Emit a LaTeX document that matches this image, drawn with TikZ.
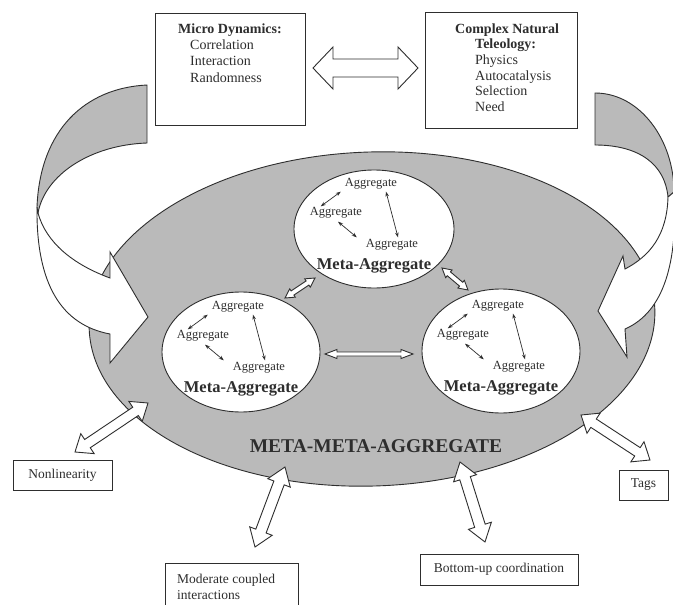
\documentclass[tikz,border=0pt]{standalone}
\usepackage{fontspec}
\setmainfont{Liberation Serif}
\usetikzlibrary{calc,arrows.meta,shapes.geometric}

\definecolor{inkc}{gray}{0.18}
\definecolor{bandgray}{gray}{0.73}

\tikzset{
  ink/.style={draw=inkc, line width=0.9pt},
  txt/.style={inner sep=0pt, text=inkc, font=\fontsize{14}{16}\selectfont},
  lbl/.style={inner sep=0pt, text=inkc, font=\fontsize{13.5}{16}\selectfont},
  frame/.style={ink, rectangle, inner sep=0pt},
  agg/.style={inner sep=1pt, text=inkc, font=\fontsize{12.5}{14}\selectfont},
  metalbl/.style={inner sep=0pt, text=inkc, font=\bfseries\fontsize{16.5}{18}\selectfont},
  metaell/.style={ink, ellipse, fill=white, inner sep=0pt},
  aggarrow/.style={draw=inkc, line width=0.7pt,
    {Stealth[length=5pt,width=3.6pt]}-{Stealth[length=5pt,width=3.6pt]}},
}

% hollow double-headed arrow between two named coordinates:
% #1 from, #2 to, #3 head length, #4 half head width, #5 half shaft width
\newcommand\hollowdbl[5]{%
  \draw[ink, fill=white, line join=miter] (#1)
    -- ($(#1)!#3!(#2)!#4!90:(#2)$)
    -- ($(#1)!#3!(#2)!#5!90:(#2)$)
    -- ($(#2)!#3!(#1)!#5!-90:(#1)$)
    -- ($(#2)!#3!(#1)!#4!-90:(#1)$)
    -- (#2)
    -- ($(#2)!#3!(#1)!#4!90:(#1)$)
    -- ($(#2)!#3!(#1)!#5!90:(#1)$)
    -- ($(#1)!#3!(#2)!#5!-90:(#2)$)
    -- ($(#1)!#3!(#2)!#4!-90:(#2)$)
    -- cycle;}

% three aggregates with their links and the label of a meta-aggregate
\newcommand\aggcluster[3]{%
  \begin{scope}[shift={(#2,#3)}]
    \node[agg] (#1-t) at (-3,-45) {Aggregate};
    \node[agg] (#1-l) at (-38,-16) {Aggregate};
    \node[agg] (#1-b) at (18,16) {Aggregate};
    \node[metalbl] (#1-m) at (0,37) {Meta-Aggregate};
  \end{scope}
  \draw[aggarrow] ([xshift=12pt]#1-l.north west) -- ([xshift=-3pt,yshift=-1pt]#1-t.south west);
  \draw[aggarrow] ([xshift=2pt,yshift=-2pt]#1-l.south) -- ([xshift=-8pt,yshift=1pt]#1-b.north west);
  \draw[aggarrow] ([xshift=15pt,yshift=-1pt]#1-t.south) -- ([xshift=6pt,yshift=1pt]#1-b.north);}

\begin{document}
\begin{tikzpicture}[x=1pt,y=-1pt]
\clip (0,0) rectangle (673,605);
\fill[white] (0,0) rectangle (673,605);

% the enclosing meta-meta-aggregate
\node[ink, ellipse, fill=bandgray, minimum width=566pt, minimum height=334pt,
      inner sep=0pt, rotate=2] (mma) at (372,319) {};

% curved feedback arrow on the left: back of the ribbon, then its front
\draw[ink, fill=bandgray] (147,85) .. controls (85,88) and (40,130) .. (37,207)
  -- (38,213) .. controls (45,175) and (90,145) .. (147,143) -- cycle;
\draw[ink, fill=white, line join=miter] (37,207) .. controls (36,285) and (62,325) .. (110,334)
  -- (110,363) -- (148,317) -- (110,252) -- (110,278)
  .. controls (72,264) and (46,242) .. (38,213) -- cycle;

% curved feedback arrow on the right
\draw[ink, fill=bandgray] (595,93) .. controls (640,93) and (674,140) .. (674,192)
  -- (668,197) .. controls (665,165) and (640,145) .. (595,145) -- cycle;
\draw[ink, fill=white, line join=miter] (674,192) .. controls (678,262) and (664,312) .. (625,329)
  -- (627,357) -- (598,311) -- (623,256) -- (625,269)
  .. controls (650,256) and (667,235) .. (668,197) -- cycle;

% the three meta-aggregates
\node[metaell, minimum width=160pt, minimum height=118pt] (mtop) at (374,229) {};
\node[metaell, minimum width=158pt, minimum height=120pt] (mleft) at (241,352) {};
\node[metaell, minimum width=158pt, minimum height=124pt] (mright) at (501,351) {};

\aggcluster{tp}{374}{229}
\aggcluster{lf}{241}{352}
\aggcluster{rt}{501}{351}

% links between the meta-aggregates
\coordinate (lt-a) at (285,298); \coordinate (lt-b) at (315,278);
\coordinate (tr-a) at (442,268); \coordinate (tr-b) at (468,290);
\coordinate (lr-a) at (325,354); \coordinate (lr-b) at (413,354);
\hollowdbl{lt-a}{lt-b}{9pt}{5pt}{2.5pt}
\hollowdbl{tr-a}{tr-b}{9pt}{5pt}{2.5pt}
\hollowdbl{lr-a}{lr-b}{12pt}{4.5pt}{2pt}

\node[inner sep=0pt, text=inkc, font=\bfseries\fontsize{19.5}{22}\selectfont] (mmalbl) at (376,446) {META-META-AGGREGATE};

% top boxes
\node[frame, minimum width=150pt, minimum height=112pt] (micro) at (230,69) {};
\node[txt, anchor=base west] (micro-0) at (178,33) {\textbf{Micro Dynamics:}};
\node[txt, anchor=base west] (micro-1) at (190,49) {Correlation};
\node[txt, anchor=base west] (micro-2) at (190,65.5) {Interaction};
\node[txt, anchor=base west] (micro-3) at (190,82) {Randomness};

\node[frame, minimum width=152pt, minimum height=116pt] (teleo) at (501,70) {};
\node[txt, anchor=base west] (teleo-0) at (455,33) {\textbf{Complex Natural}};
\node[txt, anchor=base west] (teleo-1) at (475,48) {\textbf{Teleology:}};
\node[txt, anchor=base west] (teleo-2) at (475,64.5) {Physics};
\node[txt, anchor=base west] (teleo-3) at (475,80) {Autocatalysis};
\node[txt, anchor=base west] (teleo-4) at (475,95.5) {Selection};
\node[txt, anchor=base west] (teleo-5) at (475,111.5) {Need};

\coordinate (mt-a) at (313,68); \coordinate (mt-b) at (418,68);
\hollowdbl{mt-a}{mt-b}{20pt}{21pt}{9pt}

% properties below
\node[frame, lbl, minimum width=99pt, minimum height=30pt] (nonlin) at (62.5,475) {Nonlinearity};
\node[frame, minimum width=133pt, minimum height=52pt] (moder) at (231.5,589) {};
\node[lbl, anchor=base west] (moder-1) at (177,583) {Moderate coupled};
\node[lbl, anchor=base west] (moder-2) at (177,599) {interactions};
\node[frame, lbl, minimum width=158pt, minimum height=31pt] (botup) at (499,569.5) {Bottom-up coordination};
\node[frame, lbl, minimum width=49pt, minimum height=30pt] (tags) at (643.5,485) {Tags};

\coordinate (nl-a) at (148,403); \coordinate (nl-b) at (75,452);
\coordinate (mo-a) at (285,467); \coordinate (mo-b) at (255,547);
\coordinate (bu-a) at (460,462); \coordinate (bu-b) at (485,542);
\coordinate (tg-a) at (581,415); \coordinate (tg-b) at (650,460);
\hollowdbl{nl-a}{nl-b}{15pt}{12pt}{5pt}
\hollowdbl{mo-a}{mo-b}{17pt}{12pt}{5.5pt}
\hollowdbl{bu-a}{bu-b}{17pt}{12pt}{5.5pt}
\hollowdbl{tg-a}{tg-b}{15pt}{12pt}{5pt}
\end{tikzpicture}
\end{document}
